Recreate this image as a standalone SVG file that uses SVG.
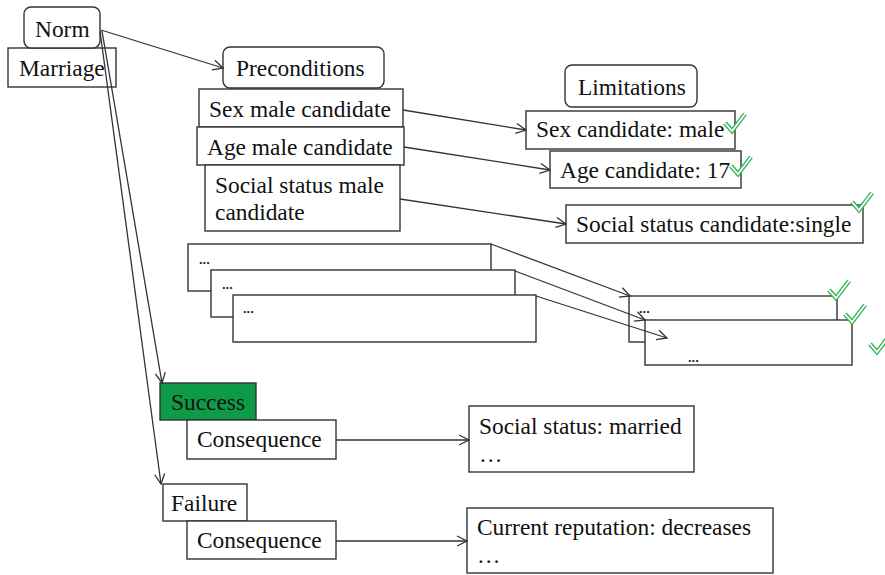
<svg xmlns="http://www.w3.org/2000/svg" width="885" height="575" viewBox="0 0 885 575">
<style>
.b{fill:#fff;stroke:#333;stroke-width:1.4}
.t{font-family:"Liberation Serif","Times New Roman",serif;font-size:23.4px;fill:#111}
.d{font-family:"Liberation Sans",Arial,sans-serif;font-size:13px;font-weight:bold;fill:#222}
.c{fill:none;stroke:#333;stroke-width:1.3}
.ck1{fill:none;stroke:#2fb554;stroke-width:4.5;stroke-linejoin:miter}
.ck2{fill:none;stroke:#fff;stroke-width:1.8}
</style>
<defs>
<marker id="a" viewBox="0 0 12 12" refX="11" refY="6" markerWidth="12" markerHeight="12" markerUnits="userSpaceOnUse" orient="auto">
<path d="M1,1 L11,6 L1,11" fill="none" stroke="#333" stroke-width="1.3"/>
</marker>
<path id="chk" d="M-10,-3 L-3,5 L10,-12"/>
</defs>
<rect width="885" height="575" fill="#fff"/>

<g id="n-marriage"><rect class="b" x="8" y="48" width="108" height="39"/><text class="t" x="19" y="76">Marriage</text></g>
<g id="n-norm"><rect class="b" x="24" y="7" width="76" height="41" rx="7"/><text class="t" x="35" y="37">Norm</text></g>

<g id="n-preconditions"><rect class="b" x="223" y="47" width="161" height="41" rx="7"/><text class="t" x="236" y="76">Preconditions</text></g>
<g id="n-sexmale"><rect class="b" x="199" y="89" width="204" height="38"/><text class="t" x="209" y="117">Sex male candidate</text></g>
<g id="n-agemale"><rect class="b" x="197" y="127" width="207" height="38"/><text class="t" x="207" y="155">Age male candidate</text></g>
<g id="n-socialmale"><rect class="b" x="205" y="165" width="195" height="66"/><text class="t" x="215" y="193">Social status male</text><text class="t" x="215" y="220">candidate</text></g>

<g id="n-limitations"><rect class="b" x="565" y="65" width="132" height="42" rx="7"/><text class="t" x="578" y="95">Limitations</text></g>
<g id="n-sexcand"><rect class="b" x="526" y="111" width="209" height="38"/><text class="t" x="536" y="137">Sex candidate: male</text></g>
<g id="n-agecand"><rect class="b" x="550" y="151" width="191" height="37"/><text class="t" x="560" y="178">Age candidate: 17</text></g>
<g id="n-socialcand"><rect class="b" x="566" y="205" width="297" height="38"/><text class="t" x="576" y="232">Social status candidate:single</text></g>

<g id="n-dots1"><rect class="b" x="188" y="244" width="303" height="47"/><text class="d" x="199" y="264">...</text></g>
<g id="n-dots2"><rect class="b" x="211" y="270" width="304" height="47"/><text class="d" x="222" y="289">...</text></g>
<g id="n-dots3"><rect class="b" x="233" y="295" width="303" height="47"/><text class="d" x="243" y="313">...</text></g>
<g id="n-rdots1"><rect class="b" x="629" y="296" width="208" height="46"/><text class="d" x="639" y="313">...</text></g>
<g id="n-rdots2"><rect class="b" x="645" y="320" width="207" height="45"/><text class="d" x="688" y="362">...</text></g>

<g id="n-success"><rect x="160" y="383" width="96" height="37" fill="#0d9b48" stroke="#333" stroke-width="1.4"/><text class="t" x="171" y="410">Success</text></g>
<g id="n-cons1"><rect class="b" x="187" y="420" width="149" height="39"/><text class="t" x="197" y="447">Consequence</text></g>
<g id="n-married"><rect class="b" x="469" y="406" width="225" height="66"/><text class="t" x="479" y="434">Social status: married</text><text class="t" x="479" y="462">…</text></g>

<g id="n-failure"><rect class="b" x="163" y="484" width="84" height="37"/><text class="t" x="171" y="511">Failure</text></g>
<g id="n-cons2"><rect class="b" x="187" y="521" width="149" height="38"/><text class="t" x="197" y="548">Consequence</text></g>
<g id="n-reputation"><rect class="b" x="467" y="508" width="306" height="65"/><text class="t" x="477" y="535">Current reputation: decreases</text><text class="t" x="477" y="563">…</text></g>

<g id="connectors">
<line class="c" x1="101" y1="30" x2="223" y2="68" marker-end="url(#a)"/>
<line class="c" x1="102" y1="31" x2="162" y2="383" marker-end="url(#a)"/>
<line class="c" x1="100" y1="31" x2="161" y2="484" marker-end="url(#a)"/>
<line class="c" x1="403" y1="110" x2="526" y2="130" marker-end="url(#a)"/>
<line class="c" x1="404" y1="147" x2="550" y2="170" marker-end="url(#a)"/>
<line class="c" x1="400" y1="199" x2="566" y2="224" marker-end="url(#a)"/>
<line class="c" x1="491" y1="244" x2="630" y2="296" marker-end="url(#a)"/>
<line class="c" x1="515" y1="271" x2="645" y2="320" marker-end="url(#a)"/>
<line class="c" x1="536" y1="296" x2="667" y2="338" marker-end="url(#a)"/>
<line class="c" x1="336" y1="440" x2="469" y2="440" marker-end="url(#a)"/>
<line class="c" x1="336" y1="541" x2="467" y2="541" marker-end="url(#a)"/>
</g>

<g id="checks">
<g transform="translate(735,126)"><use href="#chk" class="ck1"/><use href="#chk" class="ck2"/></g>
<g transform="translate(741,169)"><use href="#chk" class="ck1"/><use href="#chk" class="ck2"/></g>
<g transform="translate(862,205)"><use href="#chk" class="ck1"/><use href="#chk" class="ck2"/></g>
<g transform="translate(839,293)"><use href="#chk" class="ck1"/><use href="#chk" class="ck2"/></g>
<g transform="translate(855,317)"><use href="#chk" class="ck1"/><use href="#chk" class="ck2"/></g>
<g transform="translate(880,347)"><use href="#chk" class="ck1"/><use href="#chk" class="ck2"/></g>
</g>
</svg>
